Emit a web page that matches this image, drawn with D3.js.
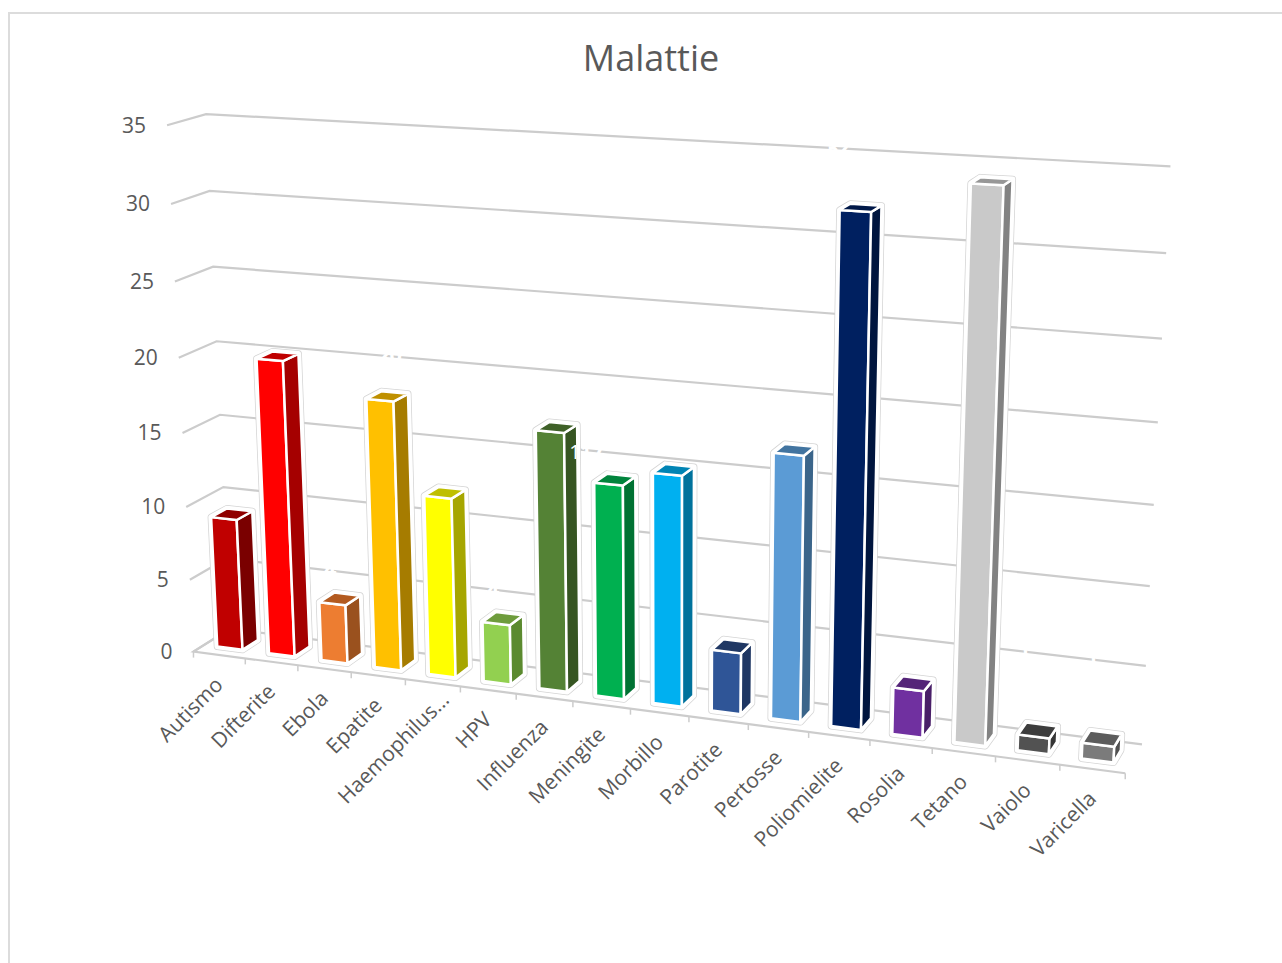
<!DOCTYPE html>
<html>
<head>
<meta charset="utf-8">
<script src="https://cdn.jsdelivr.net/npm/d3@7/dist/d3.min.js"></script>
<style>
html,body{margin:0;padding:0;background:#fff;overflow:hidden}
text{font-family:"Open Sans",sans-serif;fill:#595959}
</style>
</head>
<body>
<svg id="chart" width="1282" height="963"></svg>
<script>
// Diseases and their counts
const categories = ["Autismo","Difterite","Ebola","Epatite","Haemophilus...","HPV","Influenza","Meningite","Morbillo","Parotite","Pertosse","Poliomielite","Rosolia","Tetano","Vaiolo","Varicella"];
const values = [9,20,4,18,12,4,17,14,15,4,17,32,3,34,1,1];
const valueTicks = [0,5,10,15,20,25,30,35];
const frontColors = ["#C00000","#FF0000","#ED7D31","#FFC000","#FFFF00","#92D050","#548235","#00B050","#00B0F0","#2F5597","#5B9BD5","#002060","#7030A0","#C9C9C9","#525252","#7B7B7B"];
const sideColors  = ["#7A0000","#A50000","#9A511E","#A67C00","#A6A600","#5B8A2F","#365522","#007233","#00729C","#1F3763","#3B658A","#00153E","#491F68","#828282","#353535","#505050"];
const topColors   = ["#900000","#BF0000","#B35A1F","#BF9000","#BFBF00","#6E9C3C","#3F6128","#00843C","#0084B4","#203864","#4274A0","#001848","#542478","#979797","#3D3D3D","#5C5C5C"];

// White data labels: they only show where they cross a gridline or a bar
const whiteLabelBars = [1,2,5,6,11,14,15];
const whiteLabelSpots = [[390,362],[330,577],[493,597],[592,459],[838,155],[1025,659],[1093,667]];

// Camera calibration: unit box coordinates [x, level, depth] and where they land on the page
const calibration = [
  [0,0,0,194,652],[1,0,0,1125,773],[0,0,1,230,628],[1,0,1,1142,744],
  [0,0.143,0,190,580],[0,0.286,0,187,507],[0,0.429,0,182,433],[0,0.571,0,178,357],[0,0.714,0,175,282],[0,0.857,0,171,204],[0,1,0,167,125],
  [0,0.143,1,226,558],[0,0.286,1,223,487],[0,0.429,1,220,415],[0,0.571,1,216,342],[0,0.714,1,213,267],[0,0.857,1,210,191],[0,1,1,207,114],
  [1,0.143,1,1146,666],[1,0.286,1,1150,586],[1,0.429,1,1154,505],[1,0.571,1,1158,423],[1,0.714,1,1162,339],[1,0.857,1,1166,253],[1,1,1,1170,166]
];

// Least squares fit of a projective camera (normal equations, Gaussian elimination)
function fitCamera(pts){
  const n = 11, A = d3.range(n).map(() => new Array(n + 1).fill(0));
  const addRow = (row, rhs) => {
    for (let i = 0; i < n; i++){
      for (let j = 0; j < n; j++) A[i][j] += row[i] * row[j];
      A[i][n] += row[i] * rhs;
    }
  };
  pts.forEach(([x,v,z,sx,sy]) => {
    const u = sx / 1000, w = sy / 1000;
    addRow([x,v,z,1,0,0,0,0,-u*x,-u*v,-u*z], u);
    addRow([0,0,0,0,x,v,z,1,-w*x,-w*v,-w*z], w);
  });
  for (let c = 0; c < n; c++){
    let p = c;
    for (let r = c + 1; r < n; r++) if (Math.abs(A[r][c]) > Math.abs(A[p][c])) p = r;
    [A[c], A[p]] = [A[p], A[c]];
    for (let r = 0; r < n; r++){
      if (r === c) continue;
      const f = A[r][c] / A[c][c];
      for (let k = c; k <= n; k++) A[r][k] -= f * A[c][k];
    }
  }
  return A.map((row, i) => row[n] / row[i]);
}
const m = fitCamera(calibration);
const project = (x, v, z) => {
  const d = m[8]*x + m[9]*v + m[10]*z + 1;
  return [1000*(m[0]*x + m[1]*v + m[2]*z + m[3]) / d, 1000*(m[4]*x + m[5]*v + m[6]*z + m[7]) / d];
};

const xBand = d3.scaleBand().domain(categories).range([0,1]).paddingInner(0.51).paddingOuter(0.255);
const yLevel = d3.scaleLinear().domain([0,35]).range([0,1]);
const zFront = 0.29, zBack = 0.72;

const svg = d3.select("#chart");
const line = d3.line();
const grid = "#cccccc";

// Chart frame
svg.append("path").attr("d","M9,963V13H1282").attr("fill","none").attr("stroke","#dcdcdc").attr("stroke-width",2);

// Title
svg.append("text").attr("x",651).attr("y",71).attr("text-anchor","middle").attr("font-size",36).text("Malattie");

// Side wall and back wall gridlines
svg.append("g").selectAll("path").data(valueTicks).join("path")
  .attr("d", t => { const l = yLevel(t); return line([project(0,l,0),project(0,l,1),project(1,l,1)]); })
  .attr("fill","none").attr("stroke",grid).attr("stroke-width",2.2);

// Floor: left edge and front edge
svg.append("path").attr("d", line([project(0,0,1),project(0,0,0),project(1,0,0)]))
  .attr("fill","none").attr("stroke",grid).attr("stroke-width",2.2);

// Category boundary ticks on the floor's front edge
const tickStep = 1 / categories.length;
svg.append("g").selectAll("path").data(d3.range(categories.length + 1)).join("path")
  .attr("d", i => { const p = project(i * tickStep, 0, 0); return line([p,[p[0],p[1]+6]]); })
  .attr("stroke",grid).attr("stroke-width",1.5);

// Value axis labels
svg.append("g").selectAll("text").data(valueTicks).join("text")
  .attr("x", t => project(0,yLevel(t),0)[0] - 21)
  .attr("y", t => project(0,yLevel(t),0)[1] + 7.5)
  .attr("text-anchor","end").attr("font-size",21).text(d => d);

// White data labels sit under the bars
svg.append("g").selectAll("text").data(whiteLabelBars).join("text")
  .attr("x", (b, i) => whiteLabelSpots[i][0]).attr("y", (b, i) => whiteLabelSpots[i][1])
  .attr("text-anchor","middle").attr("font-size",20)
  .style("fill","#ffffff").style("stroke","#ffffff").style("stroke-width",1.5)
  .text(b => values[b]);

// Bars: each is a front face, a right side face and a top face
const bars = svg.append("g").selectAll("g").data(categories).join("g");
bars.each(function(c, i){
  const g = d3.select(this);
  const x0 = xBand(c), x1 = x0 + xBand.bandwidth(), l = yLevel(values[i]);
  const fbl = project(x0,0,zFront), fbr = project(x1,0,zFront), bbr = project(x1,0,zBack);
  const ftl = project(x0,l,zFront), ftr = project(x1,l,zFront), btr = project(x1,l,zBack), btl = project(x0,l,zBack);
  const hull = line([fbl,fbr,bbr,btr,btl,ftl]) + "Z";
  g.append("path").attr("d",hull).attr("fill","#fff").attr("stroke","#d4d4d4").attr("stroke-width",7).attr("stroke-linejoin","round");
  g.append("path").attr("d",hull).attr("fill","#fff").attr("stroke","#fff").attr("stroke-width",5.5).attr("stroke-linejoin","round");
  const face = (pts, fill) => g.append("path").attr("d",line(pts)+"Z").attr("fill",fill).attr("stroke","#fff").attr("stroke-width",2.5).attr("stroke-linejoin","round");
  face([fbl,fbr,ftr,ftl], frontColors[i]);
  face([fbr,bbr,btr,ftr], sideColors[i]);
  face([ftl,ftr,btr,btl], topColors[i]);
});

// Stem of the Influenza label crossing the bar's side face
svg.append("text").attr("x",575).attr("y",459).attr("text-anchor","middle").attr("font-size",20).style("fill","#ffffff").text("1");

// Category labels, rotated and ending under each band; the shortened label slides up its baseline
svg.append("g").selectAll("text").data(categories).join("text")
  .attr("text-anchor","end").attr("font-size",21)
  .attr("dx", c => c.endsWith("...") ? 18 : 0)
  .attr("transform", (c, i) => {
    const p = project((i + 0.5) * tickStep, 0, 0);
    return `translate(${p[0]+5},${p[1]+31}) rotate(-45)`;
  })
  .text(d => d);
</script>
</body>
</html>
